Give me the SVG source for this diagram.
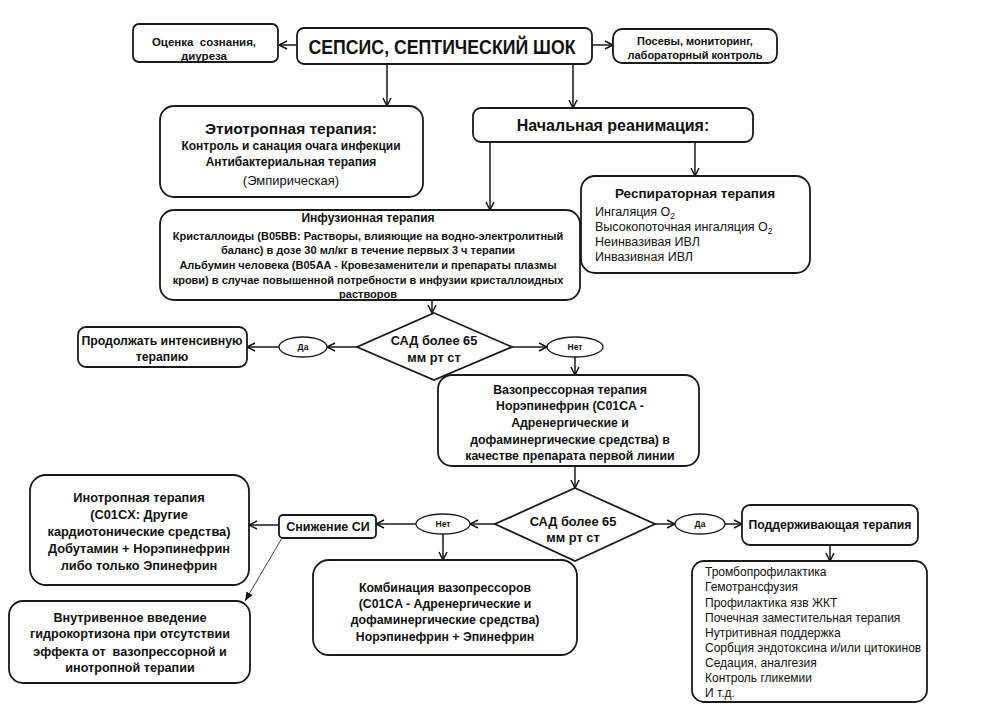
<svg xmlns="http://www.w3.org/2000/svg" width="1001" height="711" viewBox="0 0 1001 711">
<defs>
<marker id="ah" viewBox="0 0 10 10" refX="9" refY="5" markerWidth="10" markerHeight="10" markerUnits="userSpaceOnUse" orient="auto">
<path d="M1,1 L9,5 L1,9" fill="none" stroke="#111" stroke-width="1.5"/>
</marker>
<marker id="tri" viewBox="0 0 10 10" refX="10" refY="5" markerWidth="9" markerHeight="9" markerUnits="userSpaceOnUse" orient="auto">
<path d="M0,1 L10,5 L0,9 z" fill="#111"/>
</marker>
<style>
.box{fill:#fff;stroke:#1a1a1a;stroke-width:1.8}
.ell{fill:#fff;stroke:#1a1a1a;stroke-width:1.3}
.ln{stroke:#1a1a1a;stroke-width:1.5;fill:none;marker-end:url(#ah)}
.thin{stroke:#333;stroke-width:0.9;fill:none;marker-end:url(#tri)}
.t{font-family:"Liberation Sans",Arial,sans-serif;font-weight:bold;fill:#111;text-anchor:middle}
.r{font-family:"Liberation Sans",Arial,sans-serif;fill:#111}
</style>
</defs>
<rect width="1001" height="711" fill="#fff"/>

<g id="connectors">
<line class="ln" x1="297" y1="45" x2="279" y2="45"/>
<line class="ln" x1="592" y1="45" x2="613" y2="45"/>
<line class="ln" x1="387" y1="64" x2="387" y2="106"/>
<line class="ln" x1="573" y1="64" x2="573" y2="108"/>
<line class="ln" x1="490" y1="142" x2="490" y2="210"/>
<line class="ln" x1="695" y1="142" x2="695" y2="176"/>
<line class="ln" x1="432" y1="300" x2="432" y2="313"/>
<line class="ln" x1="357" y1="347" x2="327" y2="347"/>
<line class="ln" x1="279" y1="347" x2="247" y2="347"/>
<line class="ln" x1="512" y1="347" x2="547" y2="347"/>
<line class="ln" x1="575" y1="357" x2="575" y2="375"/>
<line class="ln" x1="575" y1="466" x2="575" y2="488"/>
<line class="ln" x1="495" y1="524" x2="470" y2="524"/>
<line class="ln" x1="416" y1="524" x2="376" y2="524"/>
<line class="ln" x1="443" y1="534" x2="443" y2="560"/>
<line class="ln" x1="279" y1="525" x2="249" y2="525"/>
<line class="thin" x1="282" y1="538" x2="245" y2="601"/>
<line class="ln" x1="655" y1="524" x2="675" y2="524"/>
<line class="ln" x1="725" y1="524" x2="742" y2="524"/>
<line class="ln" x1="830" y1="545" x2="830" y2="561"/>
</g>

<g id="n-ocenka">
<rect class="box" x="133" y="24" width="145" height="38" rx="6"/>
<text class="t" font-size="11.5" x="204" y="46" xml:space="preserve">Оценка  сознания,</text>
<text class="t" font-size="11.5" x="204" y="60">диуреза</text>
</g>

<g id="n-sepsis">
<rect class="box" x="297" y="28" width="295" height="36" rx="7"/>
<text class="t" font-size="19.5" x="442" y="54" textLength="267" lengthAdjust="spacingAndGlyphs">СЕПСИС, СЕПТИЧЕСКИЙ ШОК</text>
</g>

<g id="n-posevy">
<rect class="box" x="613" y="29" width="164" height="34" rx="9"/>
<text class="t" font-size="11" x="695" y="45">Посевы, мониторинг,</text>
<text class="t" font-size="11" x="695" y="59">лабораторный контроль</text>
</g>

<g id="n-etio">
<rect class="box" x="160" y="106" width="263" height="91" rx="14"/>
<text class="t" font-size="15.5" x="291" y="134">Этиотропная терапия:</text>
<text class="t" font-size="12" x="291" y="150">Контроль и санация очага инфекции</text>
<text class="t" font-size="12" x="291" y="166">Антибактериальная терапия</text>
<text class="t" font-size="13" style="font-weight:normal" x="291" y="185">(Эмпирическая)</text>
</g>

<g id="n-nachalnaya">
<rect class="box" x="473" y="108" width="280" height="34" rx="8"/>
<text class="t" font-size="16" x="613" y="131">Начальная реанимация:</text>
</g>

<g id="n-resp">
<rect class="box" x="581" y="176" width="229" height="97" rx="14"/>
<text class="t" font-size="13.5" x="695" y="198">Респираторная терапия</text>
<text class="r" font-size="12.5" x="595" y="216">Ингаляция O<tspan font-size="8.5" dy="3">2</tspan></text>
<text class="r" font-size="12.5" x="595" y="231">Высокопоточная ингаляция O<tspan font-size="8.5" dy="3">2</tspan></text>
<text class="r" font-size="12.5" x="595" y="246">Неинвазивая ИВЛ</text>
<text class="r" font-size="12.5" x="595" y="261">Инвазивная ИВЛ</text>
</g>

<g id="n-infuzion">
<rect class="box" x="160" y="210" width="420" height="90" rx="14"/>
<text class="t" font-size="12" x="368" y="222">Инфузионная терапия</text>
<text class="t" font-size="11" x="368" y="240">Кристаллоиды (B05BB: Растворы, влияющие на водно-электролитный</text>
<text class="t" font-size="11" x="368" y="254">баланс) в дозе 30 мл/кг в течение первых 3 ч терапии</text>
<text class="t" font-size="11" x="368" y="269">Альбумин человека (B05AA - Кровезаменители и препараты плазмы</text>
<text class="t" font-size="11" x="368" y="284">крови) в случае повышенной потребности в инфузии кристаллоидных</text>
<text class="t" font-size="11" x="368" y="298">растворов</text>
</g>

<g id="n-sad1">
<polygon class="box" points="434,313 512,347 434,380 357,347"/>
<text class="t" font-size="12.8" x="434" y="345">САД более 65</text>
<text class="t" font-size="12.8" x="434" y="362">мм рт ст</text>
</g>

<g id="n-da1">
<ellipse class="ell" cx="303" cy="347" rx="24" ry="10"/>
<text class="t" font-size="8.5" x="303" y="350">Да</text>
</g>

<g id="n-prodolzhat">
<rect class="box" x="78" y="327" width="169" height="40" rx="8"/>
<text class="t" font-size="12.3" x="162" y="345">Продолжать интенсивную</text>
<text class="t" font-size="12.3" x="162" y="361">терапию</text>
</g>

<g id="n-net1">
<ellipse class="ell" cx="575" cy="347" rx="28" ry="10"/>
<text class="t" font-size="8.5" x="575" y="350">Нет</text>
</g>

<g id="n-vazo">
<rect class="box" x="438" y="375" width="261" height="91" rx="14"/>
<text class="t" font-size="12.3" x="570" y="394">Вазопрессорная терапия</text>
<text class="t" font-size="12.3" x="570" y="410">Норэпинефрин (C01CA -</text>
<text class="t" font-size="12.3" x="570" y="427">Адренергические и</text>
<text class="t" font-size="12.3" x="570" y="444">дофаминергические средства) в</text>
<text class="t" font-size="12.3" x="570" y="460">качестве препарата первой линии</text>
</g>

<g id="n-sad2">
<polygon class="box" points="575,488 655,524 575,561 495,524"/>
<text class="t" font-size="12.8" x="573" y="526">САД более 65</text>
<text class="t" font-size="12.8" x="573" y="542">мм рт ст</text>
</g>

<g id="n-net2">
<ellipse class="ell" cx="443" cy="524" rx="27" ry="10"/>
<text class="t" font-size="8.5" x="443" y="527">Нет</text>
</g>

<g id="n-snizhenie">
<rect class="box" x="279" y="515" width="97" height="23" rx="4"/>
<text class="t" font-size="12.5" x="328" y="531">Снижение СИ</text>
</g>

<g id="n-inotrop">
<rect class="box" x="30" y="475" width="219" height="110" rx="16"/>
<text class="t" font-size="12.8" x="139" y="502">Инотропная терапия</text>
<text class="t" font-size="12.8" x="139" y="519">(C01CX: Другие</text>
<text class="t" font-size="12.8" x="139" y="536">кардиотонические средства)</text>
<text class="t" font-size="12.8" x="139" y="553">Добутамин + Норэпинефрин</text>
<text class="t" font-size="12.8" x="139" y="570">либо только Эпинефрин</text>
</g>

<g id="n-hydrocort">
<rect class="box" x="9" y="601" width="241" height="82" rx="14"/>
<text class="t" font-size="12.6" x="130" y="622">Внутривенное введение</text>
<text class="t" font-size="12.6" x="130" y="638">гидрокортизона при отсутствии</text>
<text class="t" font-size="12.6" x="130" y="656" xml:space="preserve">эффекта от  вазопрессорной и</text>
<text class="t" font-size="12.6" x="130" y="672">инотропной терапии</text>
</g>

<g id="n-kombinacia">
<rect class="box" x="313" y="560" width="264" height="95" rx="16"/>
<text class="t" font-size="12.3" x="445" y="592">Комбинация вазопрессоров</text>
<text class="t" font-size="12.3" x="445" y="608">(C01CA - Адренергические и</text>
<text class="t" font-size="12.3" x="445" y="624">дофаминергические средства)</text>
<text class="t" font-size="12.3" x="445" y="641">Норэпинефрин + Эпинефрин</text>
</g>

<g id="n-da2">
<ellipse class="ell" cx="700" cy="524" rx="25" ry="10"/>
<text class="t" font-size="8.5" x="700" y="527">Да</text>
</g>

<g id="n-podderzh">
<rect class="box" x="742" y="505" width="176" height="40" rx="8"/>
<text class="t" font-size="12.2" x="830" y="529">Поддерживающая терапия</text>
</g>

<g id="n-list">
<rect class="box" x="692" y="561" width="235" height="141" rx="12"/>
<text class="r" font-size="12" x="705" y="576">Тромбопрофилактика</text>
<text class="r" font-size="12" x="705" y="591">Гемотрансфузия</text>
<text class="r" font-size="12" x="705" y="607">Профилактика язв ЖКТ</text>
<text class="r" font-size="12" x="705" y="622">Почечная заместительная терапия</text>
<text class="r" font-size="12" x="705" y="637">Нутритивная поддержка</text>
<text class="r" font-size="12" x="705" y="652">Сорбция эндотоксина и/или цитокинов</text>
<text class="r" font-size="12" x="705" y="667">Седация, аналгезия</text>
<text class="r" font-size="12" x="705" y="682">Контроль гликемии</text>
<text class="r" font-size="12" x="705" y="697">И т.д.</text>
</g>
</svg>
